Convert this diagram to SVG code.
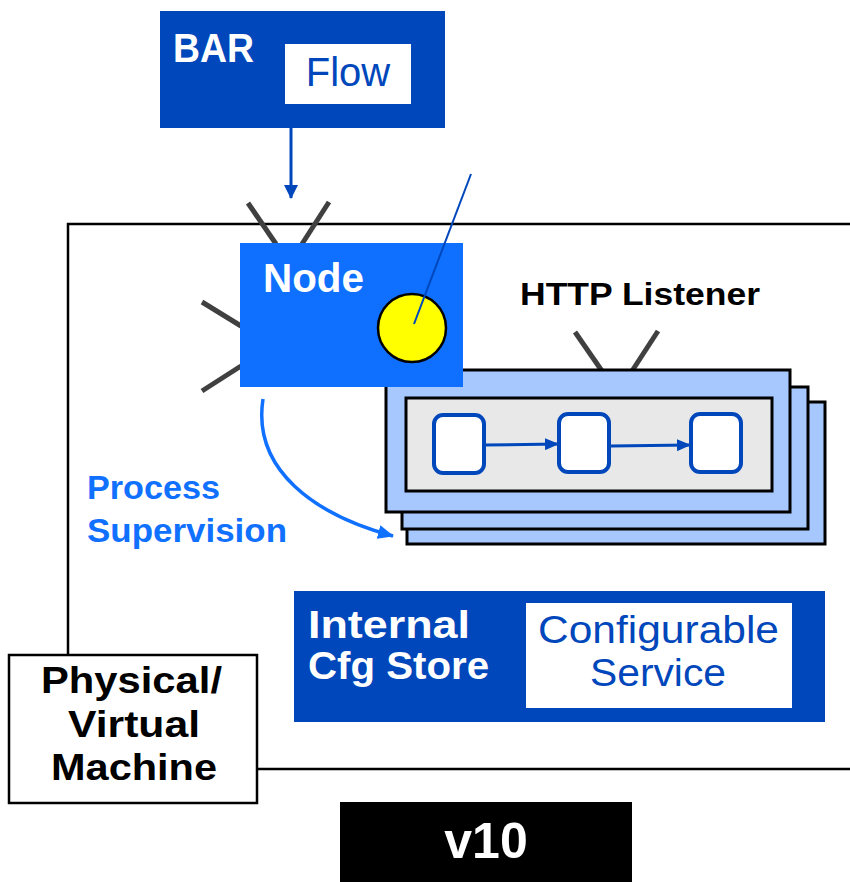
<svg xmlns="http://www.w3.org/2000/svg" width="850" height="882" viewBox="0 0 850 882">
<style>
text{font-family:"Liberation Sans",Arial,sans-serif}
.b{font-weight:bold}
.ant{stroke:#404040;stroke-width:5;fill:none}
.mach{stroke:#000;stroke-width:2.5;fill:none}
.stack{fill:#A6C8FF;stroke:#000;stroke-width:3}
.step{fill:#fff;stroke:#0047BB;stroke-width:4}
.dark{fill:#0047BB}
</style>
<defs>
<marker id="ah" viewBox="0 0 14 12" markerWidth="14" markerHeight="12" refX="13" refY="6" orient="auto" markerUnits="userSpaceOnUse"><path d="M0,0 L14,6 L0,12 Z" fill="#0047BB"/></marker>
<marker id="ahd" viewBox="0 0 14 14" markerWidth="14" markerHeight="14" refX="13" refY="7" orient="auto" markerUnits="userSpaceOnUse"><path d="M0,0 L14,7 L0,14 Z" fill="#0047BB"/></marker>
<marker id="ahl" viewBox="0 0 16 14" markerWidth="16" markerHeight="14" refX="15" refY="7" orient="auto" markerUnits="userSpaceOnUse"><path d="M0,0 L16,7 L0,14 Z" fill="#1070FF"/></marker>
</defs>

<g id="machine">
<path class="mach" d="M850,224 H68 V655"/>
<path class="mach" d="M258,769 H850"/>
</g>

<g id="bar">
<rect class="dark" x="160" y="11" width="285" height="117"/>
<text class="b" x="173" y="62" font-size="40" fill="#fff" textLength="81" lengthAdjust="spacingAndGlyphs">BAR</text>
<rect x="285" y="44" width="126" height="60" fill="#fff"/>
<text x="348" y="86" font-size="40" fill="#0047BB" text-anchor="middle">Flow</text>
</g>

<g id="http-listener">
<line class="ant" x1="575" y1="332" x2="602" y2="371"/>
<line class="ant" x1="658" y1="331" x2="632" y2="371"/>
<rect class="stack" x="407" y="402" width="418" height="142"/>
<rect class="stack" x="402" y="387" width="406" height="142"/>
<rect class="stack" x="386" y="370" width="404" height="142"/>
<rect x="406" y="398" width="366" height="93" fill="#E8E8E8" stroke="#000" stroke-width="3"/>
<rect class="step" x="434" y="415" width="50" height="58" rx="9"/>
<rect class="step" x="559" y="414" width="50" height="58" rx="9"/>
<rect class="step" x="691" y="414" width="50" height="58" rx="9"/>
<text class="b" x="520" y="305" font-size="31" fill="#000" textLength="240" lengthAdjust="spacingAndGlyphs">HTTP Listener</text>
</g>

<g id="node">
<line class="ant" x1="248" y1="203" x2="276" y2="244"/>
<line class="ant" x1="329" y1="202" x2="302" y2="244"/>
<line class="ant" x1="202" y1="302" x2="241" y2="326"/>
<line class="ant" x1="202" y1="391" x2="241" y2="366"/>
<rect x="240" y="243" width="223" height="144" fill="#0F6FFF"/>
<text class="b" x="263" y="292" font-size="41" fill="#fff" textLength="101" lengthAdjust="spacingAndGlyphs">Node</text>
<circle cx="412" cy="328" r="34" fill="#FFFF00" stroke="#000" stroke-width="2.5"/>
</g>

<g id="process-supervision">
<text class="b" x="87" y="499" font-size="34" fill="#1070FF" textLength="133" lengthAdjust="spacingAndGlyphs">Process</text>
<text class="b" x="87" y="542" font-size="34" fill="#1070FF" textLength="200" lengthAdjust="spacingAndGlyphs">Supervision</text>
</g>

<g id="cfg-store">
<rect class="dark" x="294" y="591" width="531" height="131"/>
<text class="b" x="308" y="638" font-size="38" fill="#fff" textLength="162" lengthAdjust="spacingAndGlyphs">Internal</text>
<text class="b" x="308" y="679" font-size="38" fill="#fff" textLength="181" lengthAdjust="spacingAndGlyphs">Cfg Store</text>
<rect x="526" y="603" width="266" height="105" fill="#fff"/>
<text x="538" y="643" font-size="38" fill="#0047BB" textLength="241" lengthAdjust="spacingAndGlyphs">Configurable</text>
<text x="590" y="686" font-size="38" fill="#0047BB" textLength="136" lengthAdjust="spacingAndGlyphs">Service</text>
</g>

<g id="physical-machine">
<rect x="9" y="655" width="248" height="148" fill="#fff" stroke="#000" stroke-width="2.5"/>
<text class="b" x="41" y="693" font-size="37" fill="#000" textLength="181" lengthAdjust="spacingAndGlyphs">Physical/</text>
<text class="b" x="68" y="737" font-size="37" fill="#000" textLength="132" lengthAdjust="spacingAndGlyphs">Virtual</text>
<text class="b" x="51" y="780" font-size="37" fill="#000" textLength="166" lengthAdjust="spacingAndGlyphs">Machine</text>
</g>

<g id="version">
<rect x="340" y="802" width="292" height="80" fill="#000"/>
<text class="b" x="486" y="858" font-size="50" fill="#fff" text-anchor="middle">v10</text>
</g>

<g id="connectors">
<line x1="291" y1="128" x2="291" y2="198" stroke="#0047BB" stroke-width="3" marker-end="url(#ahd)"/>
<line x1="471" y1="174" x2="414" y2="324" stroke="#0047BB" stroke-width="2"/>
<line x1="484" y1="445" x2="558" y2="444" stroke="#0047BB" stroke-width="3" marker-end="url(#ah)"/>
<line x1="611" y1="446" x2="690" y2="445" stroke="#0047BB" stroke-width="3" marker-end="url(#ah)"/>
<path d="M263,399 C252,470 315,515 393,536" fill="none" stroke="#1070FF" stroke-width="3.5" marker-end="url(#ahl)"/>
</g>
</svg>
